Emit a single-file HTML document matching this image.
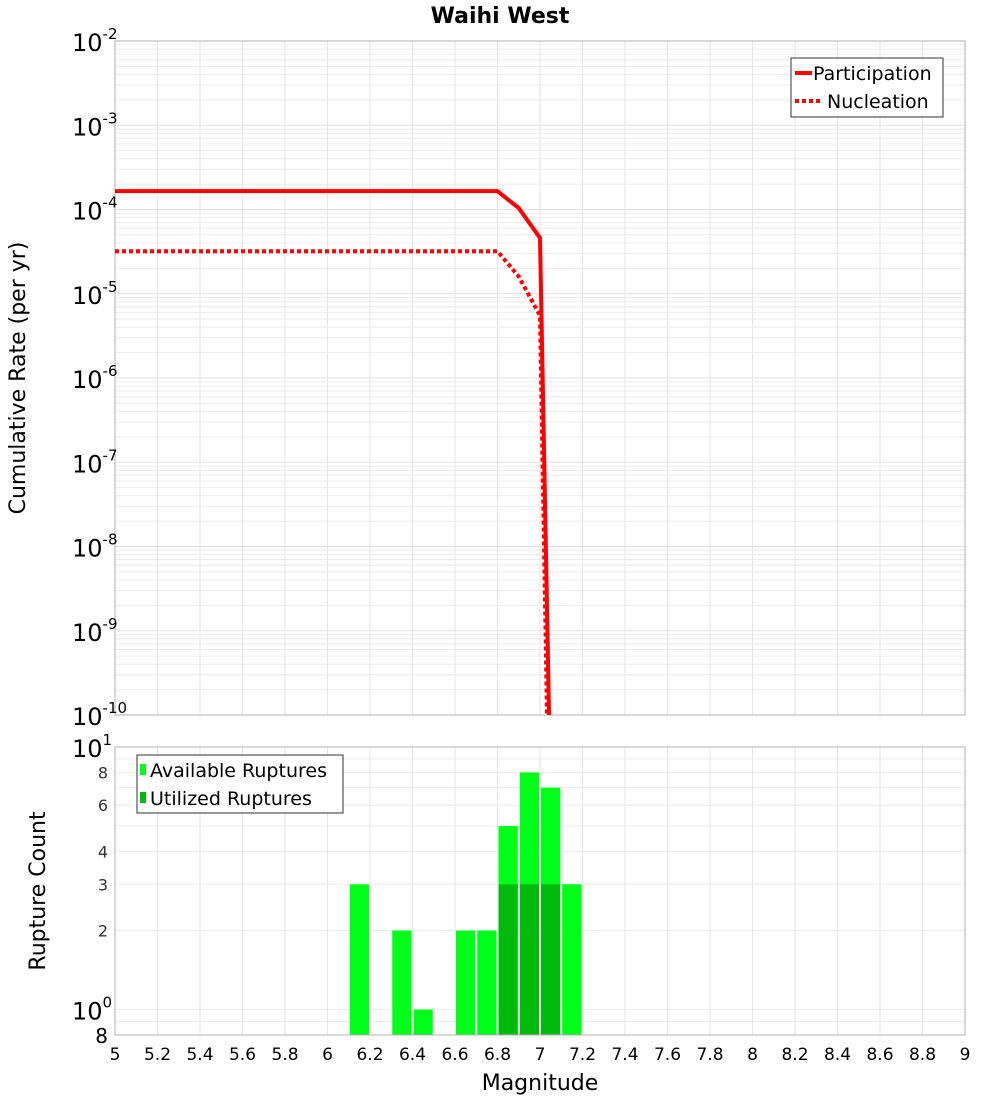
<!DOCTYPE html>
<html><head><meta charset="utf-8"><style>
body{margin:0;background:#fff;}
svg{display:block;font-family:"DejaVu Sans","Liberation Sans",sans-serif;}
</style></head><body>
<svg id="chart" width="1000" height="1100" viewBox="0 0 1000 1100">
<text x="500" y="23" text-anchor="middle" font-size="22" font-weight="bold">Waihi West</text>
<text transform="translate(25,378) rotate(-90)" text-anchor="middle" font-size="22">Cumulative Rate (per yr)</text>
<text transform="translate(45,891) rotate(-90)" text-anchor="middle" font-size="22">Rupture Count</text>
<text x="540" y="1090" text-anchor="middle" font-size="22">Magnitude</text>
<g id="topplot"></g>
<g id="botplot"></g>
</svg>
<script>
const partMags=[5,6.8,6.9,7.0,7.05];
const partRates=[1.65e-4,1.65e-4,1.04e-4,4.6e-5,1e-11];
const nuclMags=[5,6.8,6.9,7.0,7.04];
const nuclRates=[3.2e-5,3.2e-5,1.6e-5,5.5e-6,1e-11];
const binCenters=[6.15,6.35,6.45,6.65,6.75,6.85,6.95,7.05,7.15];
const availCounts=[3,2,1,2,2,5,8,7,3];
const utilCounts=[0,0,0,0,0,3,3,3,0];
const xTicks=[5,5.2,5.4,5.6,5.8,6,6.2,6.4,6.6,6.8,7,7.2,7.4,7.6,7.8,8,8.2,8.4,8.6,8.8,9];
const countTicks=[2,3,4,6,8];

const NS="http://www.w3.org/2000/svg";
const L=115,R=965;
const x=m=>L+(m-5)/4*(R-L);
const T1=41,B1=715;
const y1=v=>T1+(-2-Math.log10(v))/8*(B1-T1);
const T2=747,B2=1035;
const lmin=Math.log10(0.8);
const y2=v=>B2-(Math.log10(v)-lmin)/(1-lmin)*(B2-T2);
function mk(tag,attrs,parent,txt){const e=document.createElementNS(NS,tag);for(const k in attrs)e.setAttribute(k,attrs[k]);if(txt!==undefined)e.textContent=txt;parent.appendChild(e);return e;}
const gTop=document.getElementById('topplot'),gBot=document.getElementById('botplot');
const defs=mk('defs',{},gTop);
const cp=mk('clipPath',{id:'c1'},defs);mk('rect',{x:L,y:T1,width:R-L,height:B1-T1},cp);

for(let d=-10;d<-2;d++){for(let k=1;k<10;k++){const v=k*Math.pow(10,d);const yy=y1(v);
 const g=mk('line',{x1:L,x2:R,y1:yy,y2:yy,stroke:k==1?'#e2e2e2':'#ececec','stroke-width':1},gTop);
 
 }}
xTicks.forEach(m=>{const g=mk('line',{x1:x(m),x2:x(m),y1:T1,y2:B1,stroke:'#e6e6e6'},gTop);
 
 });
const f1=mk('rect',{x:L,y:T1,width:R-L,height:B1-T1,fill:'none',stroke:'#b0b0b0'},gTop);


for(let d=-10;d<=-2;d++){const yy=y1(Math.pow(10,d));
 const t=mk('text',{x:72,y:yy+10,'font-size':24},gTop);
 
 
 mk('tspan',{},t,'10');mk('tspan',{dy:-12,'font-size':15},t,String(d));}
function line(mags,vals,dash,name){const p=mags.map((m,i)=>x(m)+','+y1(vals[i])).join(' ');
 const e=mk('polyline',{points:p,fill:'none',stroke:'#ff0000','stroke-width':4,'clip-path':'url(#c1)'},gTop);
 if(dash)e.setAttribute('stroke-dasharray','4,3');
 
 }
line(partMags,partRates,false,'participation-line');
line(nuclMags,nuclRates,true,'nucleation-line');
const lg=mk('g',{},gTop);


mk('rect',{x:791,y:58,width:152,height:59,fill:'#fff',stroke:'#333'},lg);
mk('line',{x1:795,x2:812,y1:73,y2:73,stroke:'#f00','stroke-width':4},lg);
mk('text',{x:813,y:80,'font-size':19},lg,'Participation');
mk('line',{x1:795,x2:822,y1:101,y2:101,stroke:'#f00','stroke-width':4,'stroke-dasharray':'4,3'},lg);
mk('text',{x:827,y:108,'font-size':19},lg,'Nucleation');

const hv=[0.9,1,2,3,4,5,6,7,8,9,10];
hv.forEach(v=>{const yy=y2(v);
 const g=mk('line',{x1:L,x2:R,y1:yy,y2:yy,stroke:'#ececec'},gBot);
 
 });
xTicks.forEach(m=>{const g=mk('line',{x1:x(m),x2:x(m),y1:T2,y2:B2,stroke:'#e6e6e6'},gBot);
 
 
 const t=mk('text',{x:x(m),y:1060,'text-anchor':'middle','font-size':17},gBot,String(m));
 
 });
binCenters.forEach((c,i)=>{const w=(R-L)/40;const x0=x(c)-w/2+1,bw=w-2;
 const a=mk('rect',{x:x0,y:y2(availCounts[i]),width:bw,height:B2-y2(availCounts[i]),fill:'#00ff18'},gBot);
 
 
 if(utilCounts[i]>0){const u=mk('rect',{x:x0,y:y2(utilCounts[i]),width:bw,height:B2-y2(utilCounts[i]),fill:'#00bb0c'},gBot);
 
 }});
const f2=mk('rect',{x:L,y:T2,width:R-L,height:B2-T2,fill:'none',stroke:'#b0b0b0'},gBot);


countTicks.forEach(v=>{const t=mk('text',{x:108,y:y2(v)+6,'text-anchor':'end','font-size':16,fill:'#333'},gBot,String(v));
 
 });
[[1,'0'],[10,'1']].forEach(([v,e])=>{const t=mk('text',{x:72,y:y2(v)+10,'font-size':24},gBot);
 
 
 mk('tspan',{},t,'10');mk('tspan',{dy:-12,'font-size':15},t,e);});
const t8=mk('text',{x:108,y:1043,'text-anchor':'end','font-size':20},gBot,'8');


const lg2=mk('g',{},gBot);


mk('rect',{x:137,y:755,width:206,height:58,fill:'#fff',stroke:'#333'},lg2);
mk('rect',{x:140,y:764,width:6,height:11,fill:'#00ff18'},lg2);
mk('text',{x:150,y:777,'font-size':19},lg2,'Available Ruptures');
mk('rect',{x:140,y:792,width:6,height:11,fill:'#00bb0c'},lg2);
mk('text',{x:150,y:805,'font-size':19},lg2,'Utilized Ruptures');
</script>
</body></html>
